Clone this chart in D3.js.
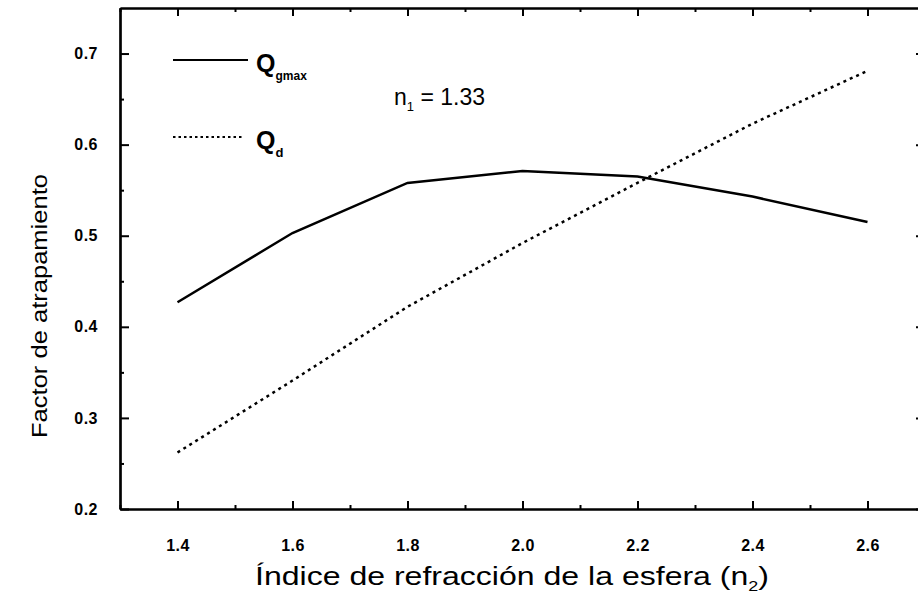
<!DOCTYPE html>
<html>
<head>
<meta charset="utf-8">
<script src="https://cdn.jsdelivr.net/npm/d3@7/dist/d3.min.js"></script>
<style>
  html, body { margin: 0; padding: 0; background: #fff; }
  svg { display: block; }
  .tick text { font-family: "Liberation Sans", Arial, sans-serif; font-weight: bold; font-size: 16px; letter-spacing: 0.5px; fill: #000; }
</style>
</head>
<body>
<svg id="chart" width="918" height="593"></svg>
<script>
// Refractive index of the sphere (n2)
const n2 = [1.4, 1.6, 1.8, 2.0, 2.2, 2.4, 2.6];
// Trapping factor curves
const qGmax = [0.427, 0.503, 0.558, 0.571, 0.565, 0.543, 0.515];
const qD    = [0.262, 0.341, 0.422, 0.492, 0.558, 0.623, 0.681];
// Axis ticks
const xMajor = [1.4, 1.6, 1.8, 2.0, 2.2, 2.4, 2.6];
const xMinor = [1.3, 1.5, 1.7, 1.9, 2.1, 2.3, 2.5, 2.7];
const yMajor = [0.2, 0.3, 0.4, 0.5, 0.6, 0.7];
const yMinor = [0.25, 0.35, 0.45, 0.55, 0.65];

const svg = d3.select("#chart");
const plotL = 120, plotR = 925, plotT = 8, plotB = 509;

const x = d3.scaleLinear().domain([1.3, 2.7]).range([plotL, plotR]);
const y = d3.scaleLinear().domain([0.2, 0.75]).range([plotB, plotT]);
const fmt = d3.format(".1f");

function styleAxis(g) {
  g.selectAll(".domain").attr("stroke", "#000").attr("stroke-width", 2.2);
  g.selectAll(".tick line").attr("stroke", "#000").attr("stroke-width", 2);
}

// bottom axis: major ticks with labels, inward
svg.append("g").attr("transform", `translate(0,${plotB})`)
  .call(d3.axisBottom(x).tickValues(xMajor).tickSize(-8).tickSizeOuter(0).tickPadding(31).tickFormat(fmt))
  .call(styleAxis);
svg.append("g").attr("transform", `translate(0,${plotB})`)
  .call(d3.axisBottom(x).tickValues(xMinor).tickSize(-4).tickSizeOuter(0).tickFormat(""))
  .call(styleAxis);

// top axis
svg.append("g").attr("transform", `translate(0,${plotT})`)
  .call(d3.axisTop(x).tickValues(xMajor).tickSize(-8).tickSizeOuter(0).tickFormat(""))
  .call(styleAxis);
svg.append("g").attr("transform", `translate(0,${plotT})`)
  .call(d3.axisTop(x).tickValues(xMinor).tickSize(-4).tickSizeOuter(0).tickFormat(""))
  .call(styleAxis);

// left axis
svg.append("g").attr("transform", `translate(${plotL},0)`)
  .call(d3.axisLeft(y).tickValues(yMajor).tickSize(-9).tickSizeOuter(0).tickPadding(22).tickFormat(fmt))
  .call(styleAxis);
svg.append("g").attr("transform", `translate(${plotL},0)`)
  .call(d3.axisLeft(y).tickValues(yMinor).tickSize(-4).tickSizeOuter(0).tickFormat(""))
  .call(styleAxis);

// right axis
svg.append("g").attr("transform", `translate(${plotR},0)`)
  .call(d3.axisRight(y).tickValues(yMajor).tickSize(-9).tickSizeOuter(0).tickFormat(""))
  .call(styleAxis);
svg.append("g").attr("transform", `translate(${plotR},0)`)
  .call(d3.axisRight(y).tickValues(yMinor).tickSize(-4).tickSizeOuter(0).tickFormat(""))
  .call(styleAxis);

// curves
const line = d3.line().x(d => x(d[0])).y(d => y(d[1]));
svg.append("path")
  .datum(n2.map((v, i) => [v, qGmax[i]]))
  .attr("d", line).attr("fill", "none").attr("stroke", "#000").attr("stroke-width", 2.5);
svg.append("path")
  .datum(n2.map((v, i) => [v, qD[i]]))
  .attr("d", line).attr("fill", "none").attr("stroke", "#000").attr("stroke-width", 2.5)
  .attr("stroke-dasharray", "3,4");

// legend
const leg = svg.append("g").attr("font-family", "Liberation Sans, Arial, sans-serif").attr("font-weight", "bold");
leg.append("line").attr("x1", 173).attr("x2", 248).attr("y1", 60).attr("y2", 60)
  .attr("stroke", "#000").attr("stroke-width", 2.2);
const t1 = leg.append("text").attr("x", 256).attr("y", 72).attr("font-size", 25);
t1.append("tspan").text("Q");
t1.append("tspan").attr("font-size", 12).attr("dy", 8).text("gmax");
leg.append("line").attr("x1", 173).attr("x2", 243).attr("y1", 137).attr("y2", 137)
  .attr("stroke", "#000").attr("stroke-width", 2).attr("stroke-dasharray", "2.5,3");
const t2 = leg.append("text").attr("x", 256).attr("y", 149).attr("font-size", 25);
t2.append("tspan").text("Q");
t2.append("tspan").attr("font-size", 13).attr("dy", 8).text("d");

// annotation n1 = 1.33
const ann = svg.append("text").attr("x", 394).attr("y", 105)
  .attr("font-family", "Liberation Sans, Arial, sans-serif").attr("font-size", 23);
ann.append("tspan").text("n");
ann.append("tspan").attr("font-size", 13).attr("dy", 6).text("1");
ann.append("tspan").attr("dy", -6).text(" = 1.33");

// axis titles
svg.append("text")
  .attr("transform", "translate(47,306) rotate(-90)")
  .attr("text-anchor", "middle")
  .attr("font-family", "Liberation Sans, Arial, sans-serif").attr("font-size", 22)
  .attr("textLength", 264).attr("lengthAdjust", "spacingAndGlyphs")
  .text("Factor de atrapamiento");

const xt = svg.append("text")
  .attr("x", 255).attr("y", 585)
  .attr("font-family", "Liberation Sans Narrow, Liberation Sans, Arial, sans-serif").attr("font-size", 25)
  .attr("textLength", 514).attr("lengthAdjust", "spacingAndGlyphs");
xt.append("tspan").text("Índice de refracción de la esfera (n");
xt.append("tspan").attr("font-size", 14).attr("dy", 6).text("2");
xt.append("tspan").attr("dy", -6).text(")");
</script>
</body>
</html>
